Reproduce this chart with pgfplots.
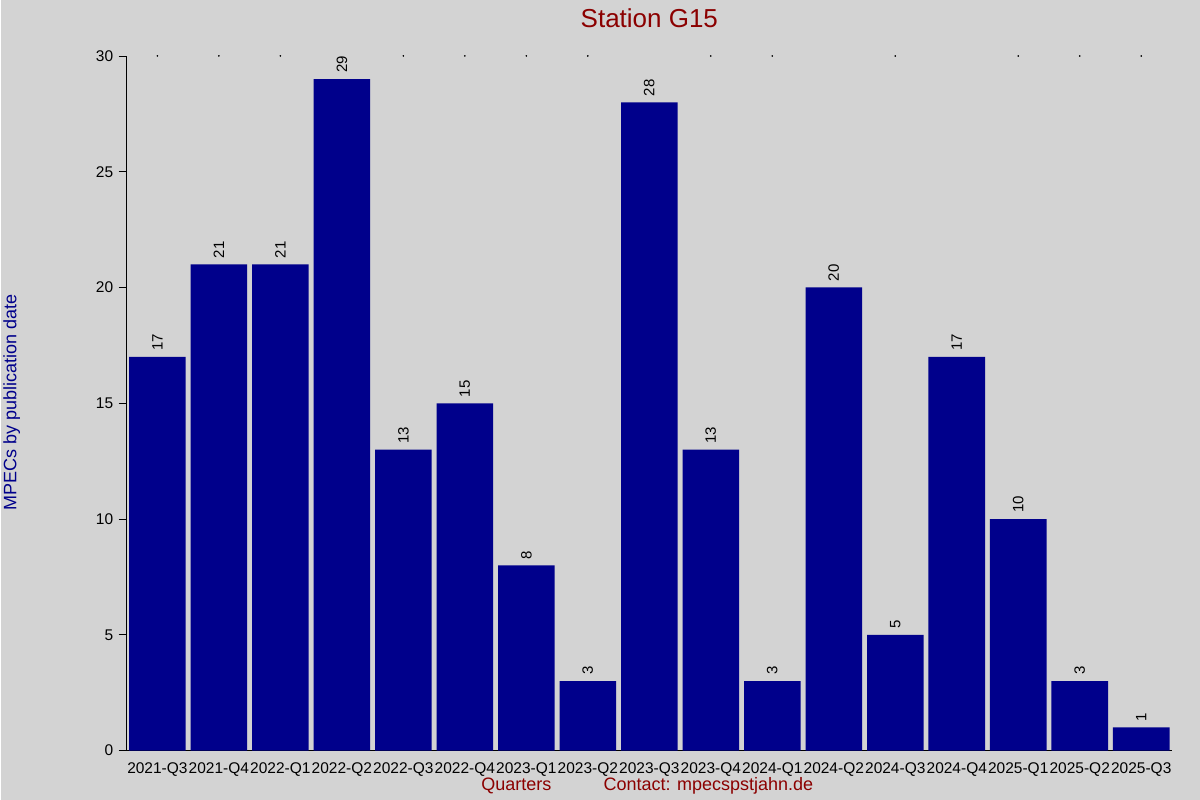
\documentclass[border=0pt]{standalone}
\usepackage{fontspec}
\setmainfont{Liberation Sans}
\usepackage{pgfplots}
\pgfplotsset{compat=1.18}
\definecolor{bgray}{RGB}{211,211,211}
\definecolor{barblue}{RGB}{0,0,139}
\definecolor{titlered}{RGB}{139,0,0}
\begin{document}
\begin{tikzpicture}
  \fill[bgray] (0pt,0pt) rectangle (1200pt,800pt);
  \begin{axis}[
      at={(126pt,49pt)}, anchor=south west,
      scale only axis,
      width=1046pt, height=695pt,
      xmin=-0.5, xmax=16.5,
      ymin=0, ymax=30,
      axis x line*=bottom,
      axis y line*=left,
      axis line style={black, line width=0.9pt, -},
      xtick=data,
      xticklabels={2021-Q3,2021-Q4,2022-Q1,2022-Q2,2022-Q3,2022-Q4,2023-Q1,2023-Q2,
        2023-Q3,2023-Q4,2024-Q1,2024-Q2,2024-Q3,2024-Q4,2025-Q1,2025-Q2,2025-Q3},
      x tick style={draw=none},
      ytick={0,5,...,30},
      tick align=outside,
      major tick length=8pt,
      y tick style={black, line width=0.9pt},
      tick label style={font=\fontsize{15.5}{18}\selectfont, black},
      xticklabel style={inner xsep=0pt, yshift=-1pt},
      yticklabel style={xshift=-2pt},
      /pgf/number format/assume math mode=true,
      clip=false,
      ybar, bar width=0.92,
      nodes near coords,
      nodes near coords style={rotate=90, anchor=west, inner xsep=6pt, inner ysep=0pt,
        font=\fontsize{15}{18}\selectfont, black},
    ]
    \addplot[fill=barblue, draw=none] coordinates {
      (0,17) (1,21) (2,21) (3,29) (4,13) (5,15) (6,8) (7,3) (8,28)
      (9,13) (10,3) (11,20) (12,5) (13,17) (14,10) (15,3) (16,1)
    };
    % small dots along the top edge
    \addplot[only marks, mark=*, mark size=0.6pt, black, nodes near coords={}, forget plot]
      coordinates {
      (0,30) (1,30) (2,30) (4,30) (5,30) (6,30) (7,30) (9,30)
      (10,30) (12,30) (14,30) (15,30) (16,30)
    };
  \end{axis}
  \node[titlered, font=\fontsize{26}{30}\selectfont] at (649pt,782pt) {Station G15};
  \node[barblue, rotate=90, font=\fontsize{18}{22}\selectfont] at (11pt,397pt) {MPECs by publication date};
  \node[titlered, font=\fontsize{18}{22}\selectfont] at (516pt,14pt) {Quarters};
  \node[titlered, font=\fontsize{18}{22}\selectfont, anchor=west, inner sep=0pt] at (603pt,14pt) {Contact: mpecspstjahn.de};
\end{tikzpicture}
\end{document}
